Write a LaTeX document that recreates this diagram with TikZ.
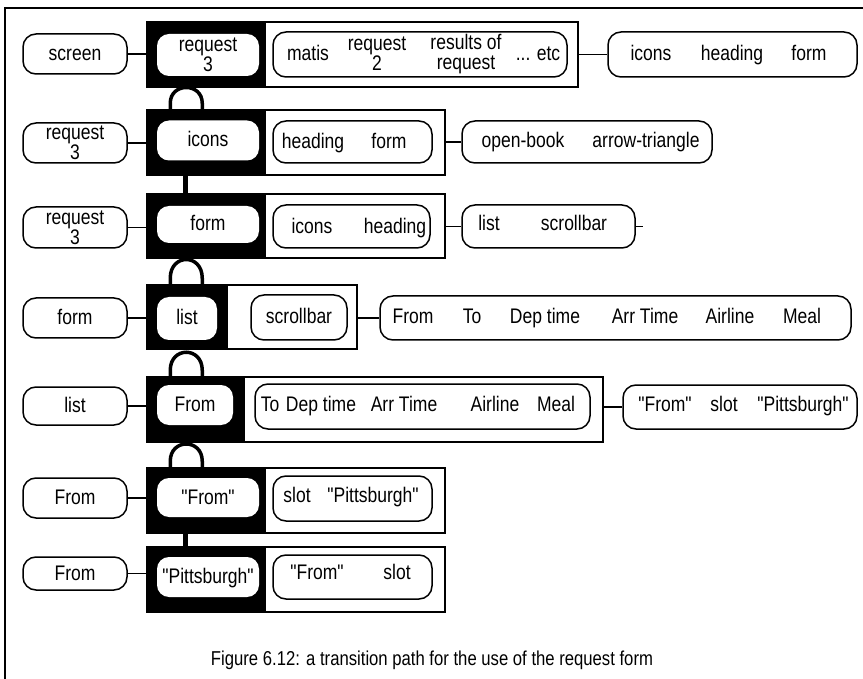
\documentclass[tikz,border=0pt]{standalone}
\usepackage{fontspec}
\setmainfont{Liberation Sans}[FakeStretch=0.83, Ligatures=TeXOff]
\usepackage{tikz}
\newcommand{\boxfont}{\fontsize{21.1}{20}\selectfont}
\tikzset{
  box/.style={draw, line width=1.5pt, rounded corners=13pt, inner sep=0pt, align=center, font=\boxfont,
    text height=16pt, text depth=3pt},
  focus/.style={fill=white, rounded corners=12pt, inner sep=0pt, align=center, font=\boxfont,
    text height=16pt, text depth=3pt},
  panel/.style={draw, line width=1.5pt, inner sep=0pt},
  lbl/.style={inner sep=0pt, align=center, font=\boxfont, text height=16pt, text depth=3pt},
  two/.style={text height=, text depth=},
  wire/.style={line width=1.5pt},
  hook/.style={line width=3.5pt},
  link/.style={line width=4.5pt}
}

\begin{document}
\begin{tikzpicture}[x=1pt, y=-1pt]
  \useasboundingbox (0,0) rectangle (863,679);
  \draw[line width=1.5pt] (5,679) -- (5,8) -- (863,8);

  % row 1
  \node[box, minimum width=104, minimum height=40] (scr1) at (75,54) {screen};
  \node[panel, minimum width=431, minimum height=65] (pan1) at (362.5,54.5) {};
  \fill (pan1.north west) rectangle ([xshift=120pt]pan1.south west);
  \node[focus, two, minimum width=102, minimum height=42] (cur1) at (208,55) {request\\3};
  \node[box, minimum width=294, minimum height=45] (in1) at (420,54.5) {};
  \node[lbl] (in1a) at (308,54) {matis};
  \node[lbl, two] (in1b) at (377,54) {request\\2};
  \node[lbl, two] (in1c) at (466,54) {results of\\request};
  \node[lbl] (in1d) at (538,54) {... etc};
  \node[box, minimum width=249, minimum height=45] (nx1) at (732.5,54.5) {};
  \node[lbl] (nx1a) at (651,54) {icons};
  \node[lbl] (nx1b) at (732,54) {heading};
  \node[lbl] (nx1c) at (809,54) {form};
  \draw[wire] (scr1.east) -- (scr1.east -| pan1.west);
  \draw[wire] (nx1.west -| pan1.east) -- (nx1.west);

  % row 2
  \node[box, two, minimum width=104, minimum height=40] (req2) at (75,143) {request\\3};
  \node[panel, minimum width=298, minimum height=65] (pan2) at (296,142.5) {};
  \fill (pan2.north west) rectangle ([xshift=120pt]pan2.south west);
  \node[focus, minimum width=102, minimum height=40] (cur2) at (208,140.5) {icons};
  \node[box, minimum width=159, minimum height=42] (in2) at (352.5,142) {};
  \node[lbl] (in2a) at (313,142) {heading};
  \node[lbl] (in2b) at (389,142) {form};
  \node[box, minimum width=250, minimum height=42] (nx2) at (587,142) {};
  \node[lbl] (nx2a) at (523,141) {open-book};
  \node[lbl] (nx2b) at (646,141) {arrow-triangle};
  \draw[wire] (req2.east) -- (req2.east -| pan2.west);
  \draw[wire] (nx2.west -| pan2.east) -- (nx2.west);

  % row 3
  \node[box, two, minimum width=104, minimum height=41] (req3) at (75,227.5) {request\\3};
  \node[panel, minimum width=298, minimum height=64] (pan3) at (296,226) {};
  \fill (pan3.north west) rectangle ([xshift=120pt]pan3.south west);
  \node[focus, minimum width=102, minimum height=37] (cur3) at (208,224.5) {form};
  \node[box, minimum width=157, minimum height=43] (in3) at (351.5,226.5) {};
  \node[lbl] (in3a) at (312,227) {icons};
  \node[lbl] (in3b) at (395,227) {heading};
  \node[box, minimum width=173, minimum height=43] (nx3) at (548.5,226.5) {};
  \node[lbl] (nx3a) at (489,224) {list};
  \node[lbl] (nx3b) at (574,224) {scrollbar};
  \coordinate (end3) at ([xshift=7pt]nx3.east);
  \draw[wire] (req3.east) -- (req3.east -| pan3.west);
  \draw[wire] (nx3.west -| pan3.east) -- (nx3.west);
  \draw[wire] (nx3.east) -- (end3);

  % row 4
  \node[box, minimum width=104, minimum height=40] (frm4) at (75,318) {form};
  \node[panel, minimum width=210, minimum height=64] (pan4) at (252,317) {};
  \fill (pan4.north west) rectangle ([xshift=82pt]pan4.south west);
  \node[focus, minimum width=60, minimum height=43] (cur4) at (187,318.5) {list};
  \node[box, minimum width=96, minimum height=45] (in4) at (299,317.5) {scrollbar};
  \node[box, minimum width=471, minimum height=44] (nx4) at (615.5,318) {};
  \node[lbl] (nx4a) at (413,317) {From};
  \node[lbl] (nx4b) at (472,317) {To};
  \node[lbl] (nx4c) at (545,317) {Dep time};
  \node[lbl] (nx4d) at (645,317) {Arr Time};
  \node[lbl] (nx4e) at (730,317) {Airline};
  \node[lbl] (nx4f) at (802,317) {Meal};
  \draw[wire] (frm4.east) -- (frm4.east -| pan4.west);
  \draw[wire] (nx4.west -| pan4.east) -- (nx4.west);

  % row 5
  \node[box, minimum width=104, minimum height=38] (lst5) at (75,406) {list};
  \node[panel, minimum width=456, minimum height=65] (pan5) at (375,409.5) {};
  \fill (pan5.north west) rectangle ([xshift=99pt]pan5.south west);
  \node[focus, minimum width=76, minimum height=40] (cur5) at (195,405) {From};
  \node[box, minimum width=335, minimum height=45] (in5) at (422.5,406.5) {};
  \node[lbl] (in5a) at (270,405) {To};
  \node[lbl] (in5b) at (321,405) {Dep time};
  \node[lbl] (in5c) at (404,405) {Arr Time};
  \node[lbl] (in5d) at (495,405) {Airline};
  \node[lbl] (in5e) at (556,405) {Meal};
  \node[box, minimum width=234, minimum height=44] (nx5) at (740,407) {};
  \node[lbl] (nx5a) at (665,405) {"From"};
  \node[lbl] (nx5b) at (724,405) {slot};
  \node[lbl] (nx5c) at (803,405) {"Pittsburgh"};
  \draw[wire] (lst5.east) -- (lst5.east -| pan5.west);
  \draw[wire] (nx5.west -| pan5.east) -- (nx5.west);

  % row 6
  \node[box, minimum width=104, minimum height=40] (frm6) at (75,498) {From};
  \node[panel, minimum width=298, minimum height=65] (pan6) at (296,500.5) {};
  \fill (pan6.north west) rectangle ([xshift=120pt]pan6.south west);
  \node[focus, minimum width=102, minimum height=39] (cur6) at (208,497.5) {"From"};
  \node[box, minimum width=159, minimum height=45] (in6) at (352.5,498.5) {};
  \node[lbl] (in6a) at (297,496) {slot};
  \node[lbl] (in6b) at (373,496) {"Pittsburgh"};
  \draw[wire] (frm6.east) -- (frm6.east -| pan6.west);

  % row 7
  \node[box, minimum width=104, minimum height=33] (frm7) at (75,573.5) {From};
  \node[panel, minimum width=298, minimum height=65] (pan7) at (296,579.5) {};
  \fill (pan7.north west) rectangle ([xshift=120pt]pan7.south west);
  \node[focus, minimum width=102, minimum height=40] (cur7) at (208,577) {"Pittsburgh"};
  \node[box, minimum width=159, minimum height=44] (in7) at (352.5,577) {};
  \node[lbl] (in7a) at (317,573) {"From"};
  \node[lbl] (in7b) at (397,573) {slot};
  \draw[wire] (frm7.east) -- (frm7.east -| pan7.west);

  % handles and links between the panels
  \draw[hook] ([xshift=24pt]pan2.north west) -- ++(0,-6) .. controls +(0,-21) and +(0,-21) .. ++(32,0) -- ++(0,6);
  \draw[hook] ([xshift=24pt]pan4.north west) -- ++(0,-6) .. controls +(0,-25) and +(0,-25) .. ++(32,0) -- ++(0,6);
  \draw[hook] ([xshift=24pt]pan5.north west) -- ++(0,-6) .. controls +(0,-24) and +(0,-24) .. ++(32,0) -- ++(0,6);
  \draw[hook] ([xshift=24pt]pan6.north west) -- ++(0,-6) .. controls +(0,-23) and +(0,-23) .. ++(32,0) -- ++(0,6);
  \draw[link] ([xshift=39pt]pan2.south west) -- ([xshift=39pt]pan3.north west);
  \draw[link] ([xshift=39pt]pan6.south west) -- ([xshift=39pt]pan7.north west);

  \node[font=\fontsize{20.1}{20}\selectfont] (cap) at (432,660) {Figure 6.12: a transition path for the use of the request form};
\end{tikzpicture}
\end{document}
